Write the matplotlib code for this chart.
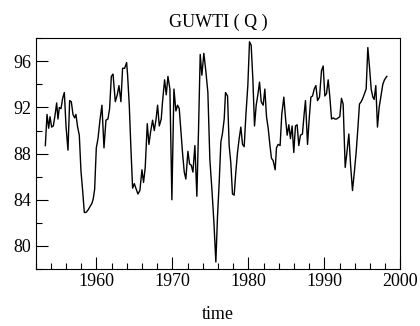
import matplotlib
matplotlib.use("Agg")
import matplotlib.pyplot as plt
from matplotlib.ticker import MultipleLocator

plt.rcParams['font.family'] = ['Liberation Serif', 'DejaVu Serif']

title = "GUWTI ( Q )"
xlabel = "time"

years = [
    1953.27, 1953.49, 1953.71, 1953.88, 1954.10, 1954.32, 1954.54, 1954.76, 1954.93, 1955.11,
    1955.33, 1955.55, 1955.77, 1955.99, 1956.25, 1956.47, 1956.69, 1956.91, 1957.13, 1957.30,
    1957.52, 1957.74, 1957.96, 1958.18, 1958.40, 1958.62, 1958.88, 1959.15, 1959.41, 1959.58,
    1959.76, 1959.98, 1960.20, 1960.46, 1960.72, 1960.99, 1961.25, 1961.51, 1961.73, 1961.96,
    1962.18, 1962.48, 1962.74, 1962.96, 1963.22, 1963.44, 1963.71, 1963.97,
    1964.10, 1964.32, 1964.54, 1964.76, 1964.98, 1965.20, 1965.46, 1965.72, 1965.99, 1966.20,
    1966.42, 1966.69, 1966.91, 1967.13, 1967.39, 1967.61, 1967.83, 1968.05, 1968.27, 1968.53,
    1968.70, 1968.97, 1969.19, 1969.41, 1969.67, 1969.93, 1970.20, 1970.46, 1970.68, 1970.90,
    1971.12, 1971.34, 1971.56, 1971.77, 1972.04, 1972.26, 1972.48, 1972.70, 1972.96, 1973.22,
    1973.44, 1973.66, 1973.88, 1974.14, 1974.41, 1974.67, 1974.93, 1975.20, 1975.46, 1975.72,
    1975.94, 1976.16, 1976.38, 1976.60, 1976.82, 1976.99, 1977.26, 1977.47, 1977.69, 1977.91,
    1978.13, 1978.35, 1978.57, 1978.79, 1979.01, 1979.23, 1979.45, 1979.67, 1979.93, 1980.15,
    1980.37, 1980.59, 1980.81, 1981.03, 1981.25, 1981.47, 1981.69, 1981.95, 1982.17, 1982.39,
    1982.61, 1982.83, 1983.04, 1983.26, 1983.53, 1983.70, 1983.92, 1984.18, 1984.40, 1984.67,
    1984.89, 1985.11, 1985.33, 1985.54, 1985.76, 1985.98, 1986.20, 1986.42, 1986.64, 1986.86,
    1987.12, 1987.34, 1987.52,
    1987.79, 1988.01, 1988.23, 1988.45, 1988.67, 1988.89, 1989.11, 1989.37, 1989.63, 1989.85,
    1990.07, 1990.29, 1990.51, 1990.73, 1990.95, 1991.17, 1991.39, 1991.61, 1991.82, 1992.04,
    1992.26, 1992.48, 1992.75, 1992.96, 1993.23, 1993.45, 1993.71, 1993.97, 1994.19, 1994.41,
    1994.63, 1994.85, 1995.07, 1995.29, 1995.51, 1995.73, 1995.95, 1996.17, 1996.39, 1996.56,
    1996.78, 1997.00, 1997.22, 1997.48, 1997.70, 1997.92, 1998.23,
]

guwti = [
    88.7, 91.4, 90.2, 91.2, 90.3, 90.4, 91.3, 92.4, 91.0, 92.0,
    91.9, 92.8, 93.3, 90.4, 88.3, 92.6, 92.5, 91.4, 91.1, 91.4,
    90.3, 89.6, 86.5, 84.8, 82.9, 82.9, 83.1, 83.4, 83.7, 84.1,
    84.9, 88.5, 89.3, 90.9, 92.2, 88.5, 90.9, 91.0, 91.9, 94.7,
    94.9, 92.5, 93.1, 93.9, 92.5, 95.4, 95.4, 95.9,
    94.8, 92.2, 88.4, 85.0, 85.4, 85.0, 84.5, 84.8, 86.6, 85.5,
    86.8, 90.6, 88.8, 89.9, 90.9, 90.0, 90.9, 92.2, 90.4, 91.0,
    92.5, 94.4, 93.1, 94.7, 93.6, 84.0, 93.6, 91.7, 92.2, 91.9,
    90.0, 88.0, 86.4, 85.8, 88.2, 87.1, 87.0, 86.4, 88.7, 84.3,
    90.1, 96.6, 94.8, 96.7, 95.1, 93.3, 87.5, 84.9, 82.1, 78.6,
    82.6, 85.5, 89.0, 89.8, 91.0, 93.3, 93.0, 88.7, 87.2, 84.5,
    84.4, 86.4, 88.1, 89.3, 90.3, 88.8, 88.6, 91.3, 93.9, 97.7,
    97.4, 94.5, 90.4, 92.2, 93.1, 94.2, 92.5, 92.2, 93.6, 91.2,
    90.2, 88.8, 87.6, 87.4, 86.6, 88.5, 88.8, 88.7, 91.4, 92.9,
    91.1, 89.6, 90.5, 89.3, 90.4, 88.1, 90.4, 90.5, 88.7, 89.6,
    89.7, 91.4, 92.6,
    88.8, 91.0, 92.9, 93.0, 93.6, 93.9, 92.6, 92.9, 95.2, 95.6,
    93.0, 93.2, 94.4, 92.9, 91.0, 91.1, 91.0, 91.0, 91.1, 91.2,
    92.8, 92.3, 86.8, 88.0, 89.7, 87.1, 84.8, 86.5, 88.1, 90.1,
    92.3, 92.5, 92.8, 93.2, 93.6, 97.2, 95.5, 93.6, 92.9, 92.7,
    93.9, 90.3, 92.0, 93.1, 94.0, 94.4, 94.7,
]

fig = plt.figure(figsize=(4.2, 3.26), dpi=100)
ax = fig.add_axes([0.085, 0.175, 0.868, 0.7075])
ax.plot(years, guwti, color='black', linewidth=1.0)

ax.set_xlim(1952, 2000)
ax.set_ylim(78, 98)
ax.xaxis.set_major_locator(MultipleLocator(10))
ax.xaxis.set_minor_locator(MultipleLocator(2))
ax.yaxis.set_major_locator(MultipleLocator(4))
ax.yaxis.set_minor_locator(MultipleLocator(2))
ax.tick_params(axis='both', which='major', direction='in', length=8.3, width=0.8,
               labelsize=13, pad=3)
ax.tick_params(axis='both', which='minor', direction='in', length=4.5, width=0.8)
ax.tick_params(top=False, right=False)
for s in ax.spines.values():
    s.set_linewidth(0.8)

ax.set_title(title, fontsize=13, pad=8.5)
ax.set_xlabel(xlabel, fontsize=13, labelpad=11.5)

fig.savefig("out.png", dpi=100)
